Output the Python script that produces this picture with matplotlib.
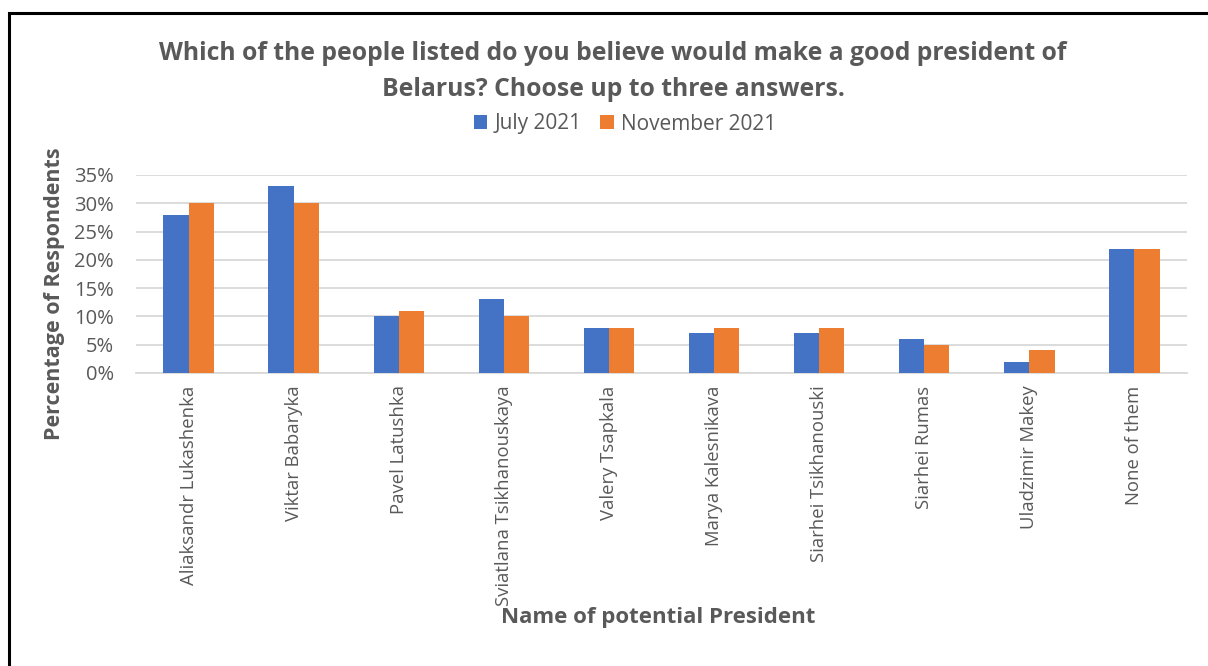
import numpy as np
import matplotlib
matplotlib.use("Agg")
from matplotlib import pyplot as plt
from matplotlib.patches import Rectangle

plt.rcParams['font.family'] = ['Open Sans', 'DejaVu Sans']

names = ["Aliaksandr Lukashenka", "Viktar Babaryka", "Pavel Latushka",
         "Sviatlana Tsikhanouskaya", "Valery Tsapkala", "Marya Kalesnikava",
         "Siarhei Tsikhanouski", "Siarhei Rumas", "Uladzimir Makey", "None of them"]
july_2021 = [28, 33, 10, 13, 8, 7, 7, 6, 2, 22]
nov_2021 = [30, 30, 11, 10, 8, 8, 8, 5, 4, 22]
y_ticks = [0, 5, 10, 15, 20, 25, 30, 35]

blue = "#4472C4"
orange = "#ED7D31"
grey = "#595959"

fig = plt.figure(figsize=(12.08, 6.66), dpi=100)
ax = fig.add_axes([136/1208, 1 - 373/666, (1187-136)/1208, (373-175)/666])

x = np.arange(len(names))
w = 0.24
ax.bar(x - w/2, july_2021, w, color=blue, label="July 2021", zorder=3)
ax.bar(x + w/2, nov_2021, w, color=orange, label="November 2021", zorder=3)

ax.set_xlim(-0.5, len(names) - 0.5)
ax.set_ylim(0, 35)
ax.set_yticks(y_ticks)
ax.set_yticklabels([f"{t}%" for t in y_ticks])
ax.set_xticks(x)
ax.set_xticklabels(names, rotation=90)
ax.tick_params(axis="x", length=0, labelsize=13.3, colors=grey, pad=9)
ax.tick_params(axis="y", length=0, labelsize=14.5, colors=grey, pad=16)
ax.grid(axis="y", color="#d9d9d9", linewidth=1.3, zorder=0)
for s in ["top", "right", "left"]:
    ax.spines[s].set_visible(False)
ax.spines["bottom"].set_color("#d9d9d9")
ax.spines["bottom"].set_linewidth(1.3)

fig.text(613/1208, 1 - 53/666, "Which of the people listed do you believe would make a good president of",
         ha="center", va="center", fontsize=17.8, fontweight="bold", color=grey)
fig.text(613/1208, 1 - 90/666, "Belarus? Choose up to three answers.",
         ha="center", va="center", fontsize=17.8, fontweight="bold", color=grey)

fig.legend(loc="center", bbox_to_anchor=(625/1208, 1 - 124/666), ncol=2, frameon=False,
           fontsize=15, handlelength=0.65, handleheight=0.65, columnspacing=0.9,
           handletextpad=0.35, labelcolor=grey)

fig.text(55/1208, 1 - 294/666, "Percentage of Respondents", rotation=90,
         ha="center", va="center", fontsize=15.5, fontweight="bold", color=grey)
fig.text(658/1208, 1 - 618/666, "Name of potential President",
         ha="center", va="center", fontsize=16, fontweight="bold", color=grey)

fig.patches.append(Rectangle((9/1208, -0.1), 1.2, 1 - 13/666 + 0.1, transform=fig.transFigure,
                             fill=False, edgecolor="black", linewidth=2.2))

fig.savefig("out.png", dpi=100)
